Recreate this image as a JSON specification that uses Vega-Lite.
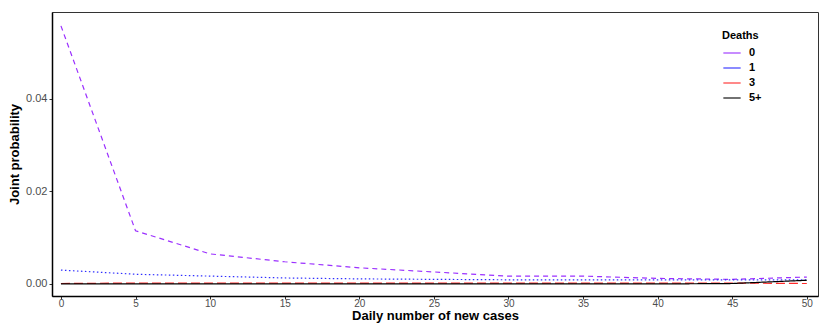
{
  "$schema": "https://vega.github.io/schema/vega-lite/v6.json",
  "autosize": {"type": "none"},
  "width": 766,
  "height": 284,
  "padding": {"left": 52, "top": 12, "right": 16, "bottom": 27},
  "background": "white",
  "config": {
    "font": "Liberation Sans",
    "view": {"stroke": "#333333", "strokeWidth": 1},
    "axis": {
      "grid": false,
      "domainColor": "#000000",
      "domainWidth": 1.5,
      "tickColor": "#333333",
      "tickSize": 3,
      "labelColor": "#4D4D4D",
      "labelFontSize": 11,
      "labelFont": "Liberation Sans",
      "titleFont": "Liberation Sans",
      "titleFontSize": 13,
      "titleFontWeight": "bold",
      "titleColor": "#000000"
    }
  },
  "data": {
    "values": [
      {"cases": 0, "deaths": "0", "p": 0.0558},
      {"cases": 5, "deaths": "0", "p": 0.0115},
      {"cases": 10, "deaths": "0", "p": 0.0065},
      {"cases": 15, "deaths": "0", "p": 0.0048},
      {"cases": 20, "deaths": "0", "p": 0.0035},
      {"cases": 25, "deaths": "0", "p": 0.0026},
      {"cases": 30, "deaths": "0", "p": 0.0017},
      {"cases": 35, "deaths": "0", "p": 0.0017},
      {"cases": 40, "deaths": "0", "p": 0.0012},
      {"cases": 45, "deaths": "0", "p": 0.0010},
      {"cases": 50, "deaths": "0", "p": 0.0015},
      {"cases": 0, "deaths": "1", "p": 0.0030},
      {"cases": 5, "deaths": "1", "p": 0.0021},
      {"cases": 10, "deaths": "1", "p": 0.0017},
      {"cases": 15, "deaths": "1", "p": 0.0013},
      {"cases": 20, "deaths": "1", "p": 0.0011},
      {"cases": 25, "deaths": "1", "p": 0.0010},
      {"cases": 30, "deaths": "1", "p": 0.0009},
      {"cases": 35, "deaths": "1", "p": 0.0009},
      {"cases": 40, "deaths": "1", "p": 0.0009},
      {"cases": 45, "deaths": "1", "p": 0.0009},
      {"cases": 50, "deaths": "1", "p": 0.0009},
      {"cases": 0, "deaths": "3", "p": 0.0001},
      {"cases": 5, "deaths": "3", "p": 0.0002},
      {"cases": 10, "deaths": "3", "p": 0.0002},
      {"cases": 15, "deaths": "3", "p": 0.0002},
      {"cases": 20, "deaths": "3", "p": 0.0002},
      {"cases": 25, "deaths": "3", "p": 0.0002},
      {"cases": 30, "deaths": "3", "p": 0.0002},
      {"cases": 35, "deaths": "3", "p": 0.0002},
      {"cases": 40, "deaths": "3", "p": 0.0002},
      {"cases": 45, "deaths": "3", "p": 0.0002},
      {"cases": 50, "deaths": "3", "p": 0.0001},
      {"cases": 0, "deaths": "5+", "p": 0.0},
      {"cases": 5, "deaths": "5+", "p": 0.0},
      {"cases": 10, "deaths": "5+", "p": 0.0},
      {"cases": 15, "deaths": "5+", "p": 0.0},
      {"cases": 20, "deaths": "5+", "p": 0.0},
      {"cases": 25, "deaths": "5+", "p": 0.0},
      {"cases": 30, "deaths": "5+", "p": 0.0},
      {"cases": 35, "deaths": "5+", "p": 0.0},
      {"cases": 40, "deaths": "5+", "p": 0.0},
      {"cases": 45, "deaths": "5+", "p": 0.0001},
      {"cases": 50, "deaths": "5+", "p": 0.0008}
    ]
  },
  "encoding": {
    "x": {
      "field": "cases",
      "type": "quantitative",
      "title": "Daily number of new cases",
      "scale": {"domain": [-0.6, 50.75], "nice": false, "zero": false},
      "axis": {"values": [0, 5, 10, 15, 20, 25, 30, 35, 40, 45, 50], "format": "d", "labelPadding": -1, "labelFontSize": 10, "titleY": 23, "titleBaseline": "alphabetic"}
    },
    "y": {
      "field": "p",
      "type": "quantitative",
      "title": "Joint probability",
      "scale": {"domain": [-0.0026, 0.0588], "nice": false, "zero": false},
      "axis": {"values": [0, 0.02, 0.04], "format": ".2f", "titlePadding": 4, "labelPadding": 2}
    }
  },
  "layer": [
    {
      "mark": {"type": "line", "strokeWidth": 1.2},
      "encoding": {
        "color": {
          "field": "deaths",
          "type": "nominal",
          "scale": {"domain": ["0", "1", "3", "5+"], "range": ["#9B30FF", "#2E2EFF", "#FF2A2A", "#000000"]},
          "legend": null
        },
        "strokeDash": {
          "field": "deaths",
          "type": "nominal",
          "scale": {"domain": ["0", "1", "3", "5+"], "range": [[5, 4], [1.5, 2.5], [9, 4], [1, 0]]},
          "legend": null
        }
      }
    },
    {
      "transform": [{"filter": "datum.p < 0"}],
      "mark": {"type": "line", "strokeWidth": 2},
      "encoding": {
        "color": {
          "field": "deaths",
          "type": "nominal",
          "scale": {"domain": ["0", "1", "3", "5+"], "range": ["#9B30FF", "#2E2EFF", "#FF2A2A", "#000000"]},
          "legend": {
            "title": "Deaths",
            "orient": "none",
            "legendX": 670,
            "legendY": 18,
            "symbolType": "stroke",
            "symbolSize": 300,
            "symbolStrokeWidth": 2,
            "symbolOpacity": 0.55,
            "titleFontSize": 11,
            "titleFontWeight": "bold",
            "titleColor": "#000000",
            "labelFontSize": 11,
            "labelFontWeight": "bold",
            "labelColor": "#000000",
            "labelOffset": 7,
            "rowPadding": 0,
            "titlePadding": 2
          }
        }
      }
    }
  ],
  "resolve": {"scale": {"color": "independent"}, "legend": {"color": "independent"}}
}
